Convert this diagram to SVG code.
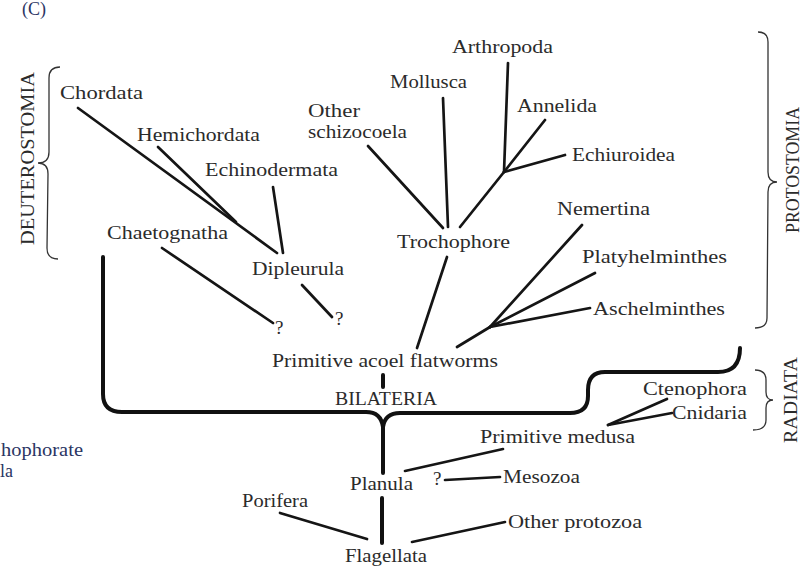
<svg xmlns="http://www.w3.org/2000/svg" width="804" height="580" viewBox="0 0 804 580">
<style>
.t{font-family:"Liberation Serif","Times New Roman",serif;font-size:19px;fill:#2b2b2b}
.g{font-family:"Liberation Serif","Times New Roman",serif;font-size:18px;fill:#2b3563}
.c{stroke:#151515;stroke-width:2.7;fill:none;stroke-linecap:round;stroke-linejoin:round}
.k{stroke:#111;stroke-width:4;fill:none;stroke-linecap:round;stroke-linejoin:round}
.b{stroke:#333;stroke-width:1.3;fill:none}
</style>
<rect width="804" height="580" fill="#fff"/>
<g id="panel-label"><text class="g" x="22" y="15" font-size="13" textLength="24" lengthAdjust="spacingAndGlyphs">(C)</text></g>
<g id="lophophorate-cut"><text class="g" x="1" y="456" textLength="82" lengthAdjust="spacingAndGlyphs">hophorate</text><text class="g" x="0" y="477" textLength="13" lengthAdjust="spacingAndGlyphs">la</text></g>

<g id="connectors">
<path class="c" d="M78,108 L277,253"/>
<path class="c" d="M158,147 L236,222"/>
<path class="c" d="M273,187 L283,253"/>
<path class="c" d="M162,248 L273,323"/>
<path class="c" d="M302,285 L332,317"/>
<path class="c" d="M368,146 L443,228"/>
<path class="c" d="M443,98 L448,227"/>
<path class="c" d="M508,63 L504,172"/>
<path class="c" d="M545,120 L504,172"/>
<path class="c" d="M565,155 L504,172"/>
<path class="c" d="M504,172 L460,227"/>
<path class="c" d="M447,257 L417,348"/>
<path class="c" d="M457,347 L490,327"/>
<path class="c" d="M490,327 L582,225"/>
<path class="c" d="M490,327 L595,273"/>
<path class="c" d="M490,327 L590,308"/>
<path class="k" d="M383,375 L383,387"/>
<path class="k" d="M103,257 L103,394 Q103,412 122,412 L366,412 Q381,412 383,427"/>
<path class="k" d="M740,348 Q740,372 718,372 L605,372 Q588,372 588,390 L588,396 Q588,413 570,413 L400,413 Q385,413 383,427 L383,473"/>
<path class="c" d="M667,399 L608,425"/>
<path class="c" d="M672,413 L608,425"/>
<path class="c" d="M503,449 L405,471"/>
<path class="c" d="M445,480 L500,477"/>
<path class="k" d="M382,498 L382,543"/>
<path class="c" d="M280,513 L367,539"/>
<path class="c" d="M412,542 L505,522"/>
</g>

<g id="braces">
<path class="b" d="M60,67 Q49,67 49,78 L49,152 Q49,163 38,163 Q48,163 48,174 L47,248 Q47,259 58,259"/>
<path class="b" d="M758,32 Q768,32 768,42 L768,172 Q768,182 777,182 Q768,182 768,192 L767,318 Q767,328 755,328"/>
<path class="b" d="M755,370 Q766,370 766,380 L766,392 Q766,400 773,400 Q766,400 766,408 L766,420 Q766,430 753,430"/>
</g>

<g id="deuterostomia"><text class="t" transform="translate(34,245) rotate(-90)" textLength="173" lengthAdjust="spacingAndGlyphs">DEUTEROSTOMIA</text></g>
<g id="protostomia"><text class="t" transform="translate(799,233) rotate(-90)" textLength="126" lengthAdjust="spacingAndGlyphs">PROTOSTOMIA</text></g>
<g id="radiata"><text class="t" transform="translate(797,443) rotate(-90)" textLength="86" lengthAdjust="spacingAndGlyphs">RADIATA</text></g>

<g id="chordata"><text class="t" x="60" y="99" textLength="83" lengthAdjust="spacingAndGlyphs">Chordata</text></g>
<g id="hemichordata"><text class="t" x="137" y="141" textLength="123" lengthAdjust="spacingAndGlyphs">Hemichordata</text></g>
<g id="echinodermata"><text class="t" x="205" y="176" textLength="133" lengthAdjust="spacingAndGlyphs">Echinodermata</text></g>
<g id="chaetognatha"><text class="t" x="107" y="239" textLength="121" lengthAdjust="spacingAndGlyphs">Chaetognatha</text></g>
<g id="dipleurula"><text class="t" x="252" y="275" textLength="92" lengthAdjust="spacingAndGlyphs">Dipleurula</text></g>
<g id="q1"><text class="t" x="275" y="334" font-size="16">?</text></g>
<g id="q2"><text class="t" x="335" y="325" font-size="16">?</text></g>
<g id="other-schizocoela"><text class="t" x="308" y="117" textLength="52" lengthAdjust="spacingAndGlyphs">Other</text><text class="t" x="308" y="138" textLength="99" lengthAdjust="spacingAndGlyphs">schizocoela</text></g>
<g id="mollusca"><text class="t" x="390" y="88" textLength="77" lengthAdjust="spacingAndGlyphs">Mollusca</text></g>
<g id="arthropoda"><text class="t" x="452" y="53" textLength="101" lengthAdjust="spacingAndGlyphs">Arthropoda</text></g>
<g id="annelida"><text class="t" x="517" y="112" textLength="80" lengthAdjust="spacingAndGlyphs">Annelida</text></g>
<g id="echiuroidea"><text class="t" x="572" y="161" textLength="103" lengthAdjust="spacingAndGlyphs">Echiuroidea</text></g>
<g id="trochophore"><text class="t" x="397" y="248" textLength="113" lengthAdjust="spacingAndGlyphs">Trochophore</text></g>
<g id="nemertina"><text class="t" x="557" y="215" textLength="93" lengthAdjust="spacingAndGlyphs">Nemertina</text></g>
<g id="platyhelminthes"><text class="t" x="582" y="263" textLength="145" lengthAdjust="spacingAndGlyphs">Platyhelminthes</text></g>
<g id="aschelminthes"><text class="t" x="593" y="315" textLength="132" lengthAdjust="spacingAndGlyphs">Aschelminthes</text></g>
<g id="acoel-flatworms"><text class="t" x="272" y="367" textLength="226" lengthAdjust="spacingAndGlyphs">Primitive acoel  flatworms</text></g>
<g id="bilateria"><text class="t" x="335" y="405" textLength="102" lengthAdjust="spacingAndGlyphs">BILATERIA</text></g>
<g id="ctenophora"><text class="t" x="643" y="395" textLength="104" lengthAdjust="spacingAndGlyphs">Ctenophora</text></g>
<g id="cnidaria"><text class="t" x="672" y="419" textLength="75" lengthAdjust="spacingAndGlyphs">Cnidaria</text></g>
<g id="primitive-medusa"><text class="t" x="480" y="443" textLength="155" lengthAdjust="spacingAndGlyphs">Primitive medusa</text></g>
<g id="q3"><text class="t" x="433" y="485" font-size="16">?</text></g>
<g id="mesozoa"><text class="t" x="503" y="483" textLength="77" lengthAdjust="spacingAndGlyphs">Mesozoa</text></g>
<g id="planula"><text class="t" x="350" y="490" textLength="63" lengthAdjust="spacingAndGlyphs">Planula</text></g>
<g id="porifera"><text class="t" x="242" y="507" textLength="66" lengthAdjust="spacingAndGlyphs">Porifera</text></g>
<g id="other-protozoa"><text class="t" x="508" y="528" textLength="134" lengthAdjust="spacingAndGlyphs">Other protozoa</text></g>
<g id="flagellata"><text class="t" x="345" y="562" textLength="82" lengthAdjust="spacingAndGlyphs">Flagellata</text></g>
</svg>
